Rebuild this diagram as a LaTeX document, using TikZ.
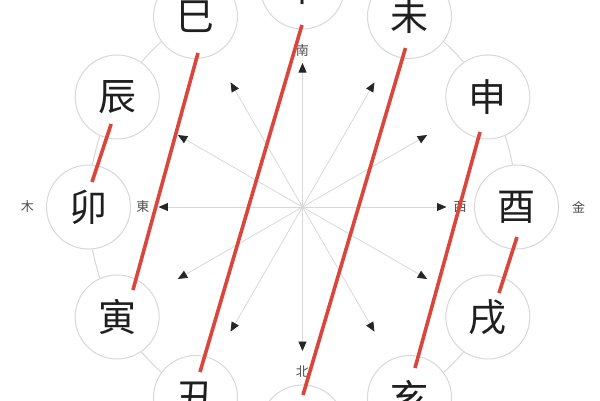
\documentclass[tikz,border=0pt]{standalone}
\usepackage{fontspec}
\newfontfamily\cjk{Noto Sans CJK SC}
\usetikzlibrary{arrows.meta,calc,positioning}
\definecolor{zhuhong}{RGB}{218,70,60}
\definecolor{huixian}{RGB}{216,216,216}
\tikzset{
  zhi/.style={circle,draw=huixian,line width=1pt,fill=white,minimum size=84pt,inner sep=0pt,text=black!88,font=\cjk\fontsize{38}{38}\selectfont},
  fang/.style={inner sep=1pt,text=black!70,font=\cjk\fontsize{13}{13}\selectfont},
  spoke/.style={draw=huixian,line width=0.8pt,-{Triangle[length=9.5pt,width=8pt,color=black!85]}},
  hongxian/.style={draw=zhuhong,line width=3.6pt},
}
\begin{document}
\begin{tikzpicture}[x=1pt,y=1pt]
\useasboundingbox (-302.5,-193) rectangle (297.5,207);
\coordinate (o) at (0,0);
\draw[huixian,line width=1pt] (o) ellipse [x radius=214, y radius=220];
\foreach \a in {0,30,...,330}{
\coordinate (s\a) at (\a:144);
\draw[spoke] (o) -- (s\a);
}
\node[zhi] (you)  at (0:214 and 220)    {酉};
\node[zhi] (shen) at (30:214 and 220)   {申};
\node[zhi] (wei)  at (60:214 and 220)   {未};
\node[zhi] (wu)   at (90:214 and 220)   {午};
\node[zhi] (si)   at (120:214 and 220)  {巳};
\node[zhi] (chen) at (150:214 and 220)  {辰};
\node[zhi] (mao)  at (180:214 and 220)  {卯};
\node[zhi] (yin)  at (210:214 and 220)  {寅};
\node[zhi] (chou) at (240:214 and 220)  {丑};
\node[zhi] (zi)   at (270:214 and 220)  {子};
\node[zhi] (hai)  at (300:214 and 220)  {亥};
\node[zhi] (xu)   at (330:214 and 220)  {戌};

\node[fang,above=5pt of s90]  (nan) {南};
\node[fang,below=14pt of s270] (bei) {北};
\node[fang,left=8pt of s180]  (dong) {東};
\node[fang,right=6pt of s0] (xi) {西};
\node[fang,left=11pt of mao]  (mu) {木};
\node[fang,right=12pt of you] (jin) {金};

\draw[hongxian] ($(chen)+(-6,-27)$) -- ($(mao)+(3.5,25)$);
\draw[hongxian] ($(si)+(2.5,-36.5)$) -- ($(yin)+(15.8,27)$);
\draw[hongxian] ($(wu)+(-0.5,-38)$) -- ($(chou)+(4.5,25.5)$);
\draw[hongxian] ($(wei)+(-4,-31.5)$) -- ($(zi)+(0.5,32)$);
\draw[hongxian] ($(shen)+(-7.8,-35)$) -- ($(hai)+(5.5,29.5)$);
\draw[hongxian] ($(you)+(0.5,-30)$) -- ($(xu)+(11.2,24)$);
\end{tikzpicture}
\end{document}
